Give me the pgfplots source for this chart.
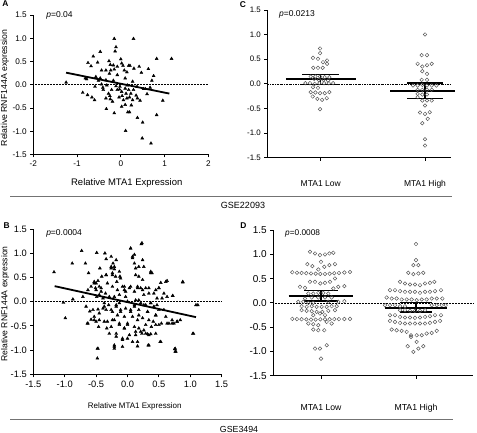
\documentclass[border=0pt]{standalone}
\usepackage{pgfplots}
\pgfplotsset{compat=1.18}
\usepackage{fontspec}
\setmainfont{Liberation Sans}
\pgfplotsset{
  gp/.style={
    scale only axis, axis x line*=bottom, axis y line*=left,
    axis line style={line width=0.8pt,-},
    tick align=outside, major tick length=3pt,
    every tick/.style={black, line width=0.8pt},
    /pgf/number format/assume math mode=true,
    ymin=-1.5, ymax=1.5, ytick={-1.5,-1,-0.5,0,0.5,1,1.5},
    yticklabel style={/pgf/number format/fixed, /pgf/number format/fixed zerofill, /pgf/number format/precision=1},
    clip=false,
  },
  tri/.style={only marks, mark=triangle*, mark size=1.7pt, mark options={black, fill=black}},
  circ/.style={only marks, mark=o, mark size=1.8pt, mark options={black!65, line width=0.5pt}},
}
\begin{document}
\begin{tikzpicture}
\useasboundingbox (0pt,0pt) rectangle (477pt,433pt);

% ---------------- Panel A ----------------
\begin{axis}[gp, at={(33.3pt,278.5pt)}, anchor=south west, width=175pt, height=139.5pt,
  xmin=-2, xmax=2, xtick={-2,-1,0,1,2},
  xticklabel style={/pgf/number format/fixed, /pgf/number format/precision=0},
  tick label style={font=\fontsize{8.2}{9}\selectfont},
  xlabel={Relative MTA1 Expression}, ylabel={Relative RNF144A expression},
  xlabel style={at={(axis description cs:0.534,-0.204)}, anchor=center, font=\fontsize{9.5}{11}\selectfont},
  ylabel style={at={(axis description cs:-0.162,0.477)}, anchor=center, font=\fontsize{8.7}{10}\selectfont}]
\addplot[densely dotted, line width=0.5pt] coordinates {(-2,0) (2,0)};
\addplot[tri] coordinates {
(-1.25,0.05) (-0.87,-0.17) (-0.76,-0.22) (-0.66,-0.27) (-0.60,-0.33) (-0.75,0.47) (-0.68,0.40)
(-0.63,0.61) (-0.53,0.48) (-0.47,0.71) (-0.81,0.14) (-0.78,0.12) (-0.57,0.17) (-0.51,0.09)
(-0.47,0.14) (-0.44,0.01) (-0.41,-0.06) (-0.44,0.31) (-0.34,0.31) (-0.34,0.10) (-0.27,0.51)
(-0.24,0.43) (-0.23,0.31) (-0.26,0.24) (-0.28,-0.19) (-0.25,-0.24) (-0.24,-0.31) (-0.34,-0.29)
(-0.33,-0.52) (-0.15,0.99) (-0.11,0.81) (-0.13,0.72) (-0.17,0.42) (-0.15,0.33) (-0.08,0.21)
(-0.15,-0.61) (-0.21,-0.11) (-0.11,-0.03) (-0.04,-0.27) (-0.02,-0.04) (0.00,0.55) (0.02,0.46)
(0.05,0.41) (0.08,0.31) (0.02,-0.47) (0.10,-0.43) (0.11,-0.99) (0.03,-0.24) (0.12,-0.19)
(0.15,-0.01) (0.14,0.27) (0.18,0.41) (0.21,0.41) (0.18,-0.11) (0.20,-0.27) (0.16,-0.59)
(0.20,-0.59) (0.29,0.99) (0.30,0.35) (0.27,0.07) (0.27,-0.33) (0.24,-0.44) (0.23,-0.19)
(0.35,-0.23) (0.38,-0.71) (0.38,-0.29) (0.42,0.39) (0.47,0.26) (0.49,-1.15) (0.50,-0.81)
(0.44,-0.34) (0.52,-0.09) (0.56,-0.09) (0.60,-0.20) (0.63,0.34) (0.67,-0.06) (0.69,-1.26)
(0.71,0.09) (0.75,0.19) (0.82,0.56) (0.82,-0.65) (0.96,-0.34) (1.16,0.56) (0.37,-0.04)
(0.10,-0.08) (-0.08,-0.11) (0.02,-0.15) (0.06,-0.33) (-0.08,0.39) (-0.19,-0.36) (-0.40,-0.11)
(-0.59,-0.04) (-0.17,0.09) (0.10,0.14) (0.14,-0.29) (0.29,-0.11) (-0.03,-0.10) (-0.32,-0.01)
};
\addplot[black, line width=1.8pt] coordinates {(-1.25,0.26) (1.11,-0.19)};
\node[anchor=west, font=\fontsize{8.5}{10}\selectfont] at (axis description cs:0.055,1.0) {\textit{p}=0.04};
\end{axis}

% ---------------- Panel C ----------------
\begin{axis}[gp, at={(267.3pt,275.3pt)}, anchor=south west, width=183.7pt, height=147.7pt,
  xmin=0.488, xmax=2.249, xtick={1,2}, xticklabels={MTA1 Low, MTA1 High},
  yticklabel style={font=\fontsize{7.9}{9}\selectfont},
  xticklabel style={font=\fontsize{8.5}{10}\selectfont, yshift=-16pt}]
\addplot[dash pattern=on 2pt off 1pt on 0.6pt off 1pt, line width=0.4pt] coordinates {(0.488,0) (2.249,0)};
\addplot[circ] coordinates {
(0.994,0.718) (0.994,0.623) (0.926,0.528) (0.974,0.508) (1.022,0.440) (1.061,0.474) (1.061,0.407)
(0.929,0.325) (0.974,0.325) (1.019,0.325) (0.904,0.149) (0.949,0.149) (0.994,0.149) (1.038,0.136)
(1.083,0.136) (0.936,0.102) (0.981,0.081) (1.026,0.081) (1.071,0.068) (0.853,0.014) (0.897,0.014)
(0.942,0.000) (0.987,0.014) (1.032,0.014) (1.077,0.014) (1.119,0.014) (0.926,-0.068) (0.974,-0.081)
(0.904,-0.169) (0.949,-0.176) (0.994,-0.190) (1.038,-0.190) (1.083,-0.169) (0.923,-0.257)
(0.968,-0.305) (1.013,-0.325) (1.058,-0.291) (0.994,-0.515)
};
\addplot[circ] coordinates {
(2.000,1.003) (1.968,0.583) (2.019,0.583) (1.929,0.407) (1.974,0.352) (2.019,0.379) (2.064,0.407)
(1.974,0.257) (2.019,0.203) (1.968,0.081) (2.019,0.081) (1.885,-0.034) (1.929,-0.034) (1.974,-0.020)
(2.019,-0.034) (2.064,-0.034) (2.109,-0.034) (1.929,-0.122) (1.974,-0.122) (2.019,-0.122)
(2.064,-0.122) (1.929,-0.203) (1.974,-0.217) (2.019,-0.217) (1.929,-0.271) (1.974,-0.339)
(2.019,-0.339) (2.064,-0.339) (2.000,-0.440) (1.952,-0.583) (2.000,-0.610) (2.045,-0.576)
(2.026,-0.711) (1.974,-0.799) (2.000,-1.125) (2.000,-1.253)
};
\addplot[black, line width=2pt] coordinates {(0.665,0.09) (1.335,0.09)};
\addplot[black, line width=1.3pt] coordinates {(0.825,0.19) (1.175,0.19)};
\addplot[black, line width=1.3pt] coordinates {(0.825,-0.01) (1.175,-0.01)};
\addplot[black, line width=1.3pt] coordinates {(1,-0.01) (1,0.19)};
\addplot[black, line width=2pt] coordinates {(1.665,-0.14) (2.29,-0.14)};
\addplot[black, line width=1.3pt] coordinates {(1.83,0.02) (2.17,0.02)};
\addplot[black, line width=1.3pt] coordinates {(1.83,-0.30) (2.17,-0.30)};
\addplot[black, line width=1.3pt] coordinates {(2,-0.30) (2,0.02)};
\node[anchor=west, font=\fontsize{8.5}{10}\selectfont] at (axis description cs:0.045,0.973) {\textit{p}=0.0213};
\end{axis}

% ---------------- Panel B ----------------
\begin{axis}[gp, at={(33.3pt,58.7pt)}, anchor=south west, width=188.4pt, height=145.3pt,
  xmin=-1.5, xmax=1.5, xtick={-1.5,-1,-0.5,0,0.5,1,1.5},
  xticklabel style={/pgf/number format/fixed, /pgf/number format/fixed zerofill, /pgf/number format/precision=1},
  tick label style={font=\fontsize{9.3}{11}\selectfont},
  xlabel={Relative MTA1 Expression}, ylabel={Relative RNF144A expression},
  xlabel style={at={(axis description cs:0.538,-0.223)}, anchor=center, font=\fontsize{8}{9.5}\selectfont},
  ylabel style={at={(axis description cs:-0.150,0.484)}, anchor=center, font=\fontsize{8.6}{10}\selectfont}]
\addplot[densely dotted, line width=0.5pt] coordinates {(-1.5,0) (1.5,0)};
\addplot[tri] coordinates {
(-1.17,0.61) (-0.88,0.79) (-0.73,1.05) (-0.67,0.79) (-0.62,0.59) (-1.02,-0.02) (-0.99,-0.34)
(-0.87,0.05) (-0.64,-0.45) (-0.49,1.01) (-0.48,-0.97) (-0.48,-1.17) (-0.36,1.00) (-0.34,0.88)
(-0.44,0.69) (-0.26,0.93) (-0.23,0.79) (0.05,1.10) (0.23,1.21) (0.24,0.86) (0.37,0.62)
(0.53,0.39) (0.63,0.43) (0.88,0.41) (0.72,0.12) (1.12,-0.07) (1.05,-0.66) (0.76,-0.97)
(0.77,-1.03) (0.53,-0.83) (0.33,-0.90) (0.16,-0.92) (-0.08,-0.93) (-0.21,-0.90) (-0.21,-0.97)
(-0.71,0.10) (-0.66,-0.10) (-0.63,0.24)
(-0.53,0.41) (-0.50,0.38) (-0.47,0.43) (-0.45,0.31) (-0.51,0.28) (-0.42,0.21) (-0.49,0.10)
(-0.39,0.07) (-0.55,-0.17) (-0.47,-0.16) (-0.39,-0.14) (-0.34,-0.17) (-0.53,-0.31) (-0.45,-0.38)
(-0.37,-0.41) (-0.46,-0.52) (-0.33,-0.55) (-0.29,-0.66) (-0.60,-0.20) (-0.58,-0.37) (-0.41,0.52)
(-0.34,0.55) (-0.32,0.38) (-0.37,-0.03) (-0.30,-0.07) (-0.35,0.17)
(-0.26,0.72) (-0.24,0.59) (-0.21,0.67) (-0.19,0.52) (-0.17,0.41) (-0.24,0.31) (-0.16,0.24)
(-0.13,0.14) (-0.21,0.10) (-0.08,0.31) (-0.05,0.24) (-0.03,0.10) (0.00,0.00) (-0.13,-0.03)
(-0.18,-0.10) (-0.24,-0.21) (-0.16,-0.28) (-0.11,-0.17) (-0.05,-0.31) (-0.21,-0.38) (-0.13,-0.48)
(-0.05,-0.55) (0.00,-0.45) (0.03,-0.69) (-0.08,-0.76) (-0.18,-0.72) (-0.26,-0.52) (0.05,-0.17)
(0.03,0.28) (-0.12,0.52)
(0.08,0.93) (0.11,0.79) (0.13,0.69) (0.18,0.52) (0.24,0.45) (0.16,0.31) (0.21,0.28) (0.29,0.28)
(0.11,0.21) (0.26,0.14) (0.34,0.17) (0.13,0.03) (0.21,-0.03) (0.29,-0.07) (0.37,-0.03) (0.11,-0.10)
(0.18,-0.17) (0.32,-0.21) (0.08,-0.31) (0.16,-0.38) (0.24,-0.34) (0.34,-0.38) (0.11,-0.52)
(0.18,-0.55) (0.26,-0.59) (0.32,-0.67) (0.37,-0.67) (0.23,-0.66) (0.13,-0.69) (0.29,-0.48)
(0.38,-0.52) (0.08,-0.83)
(0.39,0.59) (0.45,0.24) (0.50,0.28) (0.47,0.07) (0.55,0.07) (0.42,-0.10) (0.50,-0.17) (0.58,-0.17)
(0.45,-0.28) (0.41,-0.41) (0.50,-0.48) (0.61,-0.31) (0.66,-0.45) (0.74,-0.45) (0.79,-0.41)
(0.84,-0.38) (0.71,-0.38) (0.45,-0.66) (0.63,0.10)
(-0.58,0.31) (-0.53,0.38) (-0.50,0.24) (-0.45,0.14) (-0.42,0.28) (-0.34,0.55) (-0.26,0.69)
(-0.24,0.55) (-0.21,0.72) (-0.18,0.86) (-0.13,0.62) (-0.11,0.48) (-0.05,0.31) (-0.03,0.21)
(-0.29,0.10) (-0.37,-0.10) (-0.26,-0.17) (-0.18,-0.07) (-0.11,-0.21) (-0.03,-0.14) (-0.24,-0.38)
(-0.13,-0.45) (-0.05,-0.55) (-0.32,-0.41) (-0.18,-0.66) (-0.08,-0.79) (-0.21,-0.93) (-0.47,-0.97)
(-0.63,-0.45) (-0.50,-0.41) (-0.45,-0.24) (-0.53,-0.38)
(0.05,1.10) (0.22,1.19) (0.08,0.90) (0.11,0.97) (0.18,0.72) (0.26,0.72) (0.13,0.55) (0.37,0.59)
(0.05,0.31) (0.16,0.28) (0.24,0.24) (0.34,0.28) (0.42,0.17) (0.50,0.28) (0.61,0.41) (0.58,0.17)
(0.72,0.12) (0.88,0.40) (0.00,0.00) (0.11,-0.07) (0.18,0.03) (0.26,-0.07) (0.37,-0.03)
(0.47,-0.07) (1.09,-0.07) (0.05,-0.21) (0.18,-0.28) (0.32,-0.21) (0.45,-0.28) (0.00,-0.48)
(0.13,-0.62) (0.21,-0.62) (0.29,-0.66) (0.34,-0.69) (0.45,-0.48) (0.54,-0.45) (0.63,-0.45)
(0.71,-0.45) (0.79,-0.41) (0.00,-0.76) (0.16,-0.83) (0.34,-0.90) (0.52,-0.83) (1.04,-0.66)
(0.75,-0.98) (0.76,-1.03)
};
\addplot[black, line width=1.8pt] coordinates {(-1.16,0.32) (1.09,-0.32)};
\node[anchor=west, font=\fontsize{8.5}{10}\selectfont] at (axis description cs:0.05,0.972) {\textit{p}=0.0004};
\end{axis}

% ---------------- Panel D ----------------
\begin{axis}[gp, at={(273.3pt,57.3pt)}, anchor=south west, width=200pt, height=145.7pt,
  xmin=0.498, xmax=2.603, xtick={1,2}, xticklabels={MTA1 Low, MTA1 High},
  yticklabel style={font=\fontsize{10}{12}\selectfont},
  xticklabel style={font=\fontsize{8.7}{10}\selectfont, yshift=-22pt}]
\addplot[densely dotted, line width=0.5pt] coordinates {(0.498,0) (2.603,0)};
\addplot[circ] coordinates {
(0.884,1.052) (0.937,1.017) (0.989,0.983) (1.042,0.997) (1.088,1.017) (1.130,1.031)
(1.000,0.845) (0.856,0.797) (0.909,0.756) (0.972,0.687) (1.035,0.742) (1.088,0.777) (1.147,0.797)
(0.698,0.630) (0.747,0.620) (0.796,0.615) (0.846,0.610) (0.895,0.605) (0.944,0.600) (0.993,0.595)
(1.042,0.595) (1.091,0.600) (1.140,0.610) (1.189,0.615) (1.246,0.625) (1.305,0.635)
(0.884,0.433) (0.937,0.433) (0.993,0.399) (1.042,0.412) (1.095,0.433) (1.147,0.502)
(0.779,0.330) (0.832,0.309) (1.130,0.296) (1.182,0.330) (1.246,0.344)
(0.867,0.192) (0.919,0.192) (0.972,0.206) (1.025,0.206) (1.077,0.192)
(0.832,0.089) (0.902,0.110) (0.972,0.110) (1.042,0.110) (1.112,0.110)
(0.761,0.021) (0.814,0.021) (0.867,0.000) (0.919,0.000) (1.077,0.021) (1.182,0.021) (1.246,0.034)
(0.796,-0.069) (0.849,-0.082) (0.902,-0.069) (0.954,-0.082) (1.007,-0.082) (1.060,-0.082)
(1.112,-0.069) (1.165,-0.069)
(0.796,-0.151) (0.849,-0.165) (0.902,-0.172) (0.954,-0.186) (1.014,-0.186) (1.077,-0.165) (1.147,-0.151)
(0.919,-0.254) (0.989,-0.220) (1.042,-0.254)
(0.698,-0.330) (0.747,-0.335) (0.796,-0.337) (0.846,-0.340) (0.895,-0.345) (0.944,-0.345) (0.993,-0.340)
(1.042,-0.340) (1.091,-0.337) (1.140,-0.335) (1.189,-0.335) (1.246,-0.333) (1.305,-0.330)
(0.867,-0.426) (0.919,-0.440) (0.972,-0.460) (1.060,-0.392) (1.112,-0.426)
(0.919,-0.550) (0.972,-0.564) (1.035,-0.564)
(0.937,-0.942) (0.989,-0.942) (1.060,-0.873) (1.000,-1.148)
};
\addplot[circ] coordinates {
(2.000,1.210) (2.000,0.880) (1.972,0.777) (2.025,0.777)
(1.919,0.619) (1.972,0.591) (2.025,0.605) (2.077,0.619)
(1.832,0.433) (1.884,0.399) (1.937,0.378) (1.989,0.378) (2.042,0.364) (2.095,0.399) (2.147,0.412) (2.193,0.433)
(1.726,0.261) (1.779,0.261) (1.832,0.241) (1.884,0.227) (1.937,0.227) (1.989,0.227) (2.042,0.206)
(2.095,0.227) (2.147,0.227) (2.200,0.241) (2.263,0.261)
(1.691,0.110) (1.744,0.089) (1.796,0.089) (1.849,0.069) (1.902,0.069) (1.954,0.069) (2.007,0.055)
(2.060,0.069) (2.112,0.069) (2.165,0.089) (2.218,0.089) (2.277,0.089)
(1.674,-0.048) (1.726,-0.048) (1.779,-0.048) (1.832,-0.069) (1.884,-0.069) (2.165,-0.048)
(2.218,-0.048) (2.270,-0.048) (2.312,-0.048)
(1.832,-0.151) (1.884,-0.151) (1.937,-0.165) (1.989,-0.165) (2.042,-0.165) (2.095,-0.151)
(1.726,-0.254) (1.779,-0.254) (1.832,-0.289) (1.884,-0.302) (1.937,-0.302) (1.989,-0.309)
(2.042,-0.302) (2.095,-0.289) (2.147,-0.275) (2.200,-0.254) (2.263,-0.254)
(1.726,-0.371) (1.779,-0.392) (1.832,-0.412) (1.884,-0.426) (1.937,-0.426) (1.989,-0.426)
(2.042,-0.426) (2.095,-0.426) (2.147,-0.412) (2.200,-0.392) (2.253,-0.371)
(1.744,-0.550) (1.796,-0.564) (1.849,-0.577) (1.902,-0.598) (1.947,-0.667) (2.007,-0.667)
(2.060,-0.667) (2.112,-0.632) (2.165,-0.619) (2.218,-0.577)
(1.947,-0.701) (2.007,-0.804) (1.912,-0.893) (1.972,-1.010) (2.025,-0.942) (2.077,-0.893)
};
\addplot[black, line width=2pt] coordinates {(0.66,0.15) (1.34,0.15)};
\addplot[black, line width=1.3pt] coordinates {(0.825,0.26) (1.175,0.26)};
\addplot[black, line width=1.3pt] coordinates {(0.825,0.04) (1.175,0.04)};
\addplot[black, line width=1.3pt] coordinates {(1,0.04) (1,0.26)};
\addplot[black, line width=2pt] coordinates {(1.67,-0.10) (2.33,-0.10)};
\addplot[black, line width=1.3pt] coordinates {(1.83,0.00) (2.17,0.00)};
\addplot[black, line width=1.3pt] coordinates {(1.83,-0.19) (2.17,-0.19)};
\addplot[black, line width=1.3pt] coordinates {(2,-0.19) (2,0.00)};
\node[anchor=west, font=\fontsize{8.3}{10}\selectfont] at (axis description cs:0.042,0.977) {\textit{p}=0.0008};
\end{axis}

% ---------------- annotations ----------------
\node[font=\bfseries\fontsize{8.4}{10}\selectfont] at (5.5pt,429pt) {A};
\node[font=\bfseries\fontsize{8.4}{10}\selectfont] at (243pt,428pt) {C};
\node[font=\bfseries\fontsize{8.4}{10}\selectfont] at (6.7pt,207pt) {B};
\node[font=\bfseries\fontsize{8.4}{10}\selectfont] at (243.5pt,207pt) {D};
\draw[black!55, line width=1pt] (10pt,236.3pt) -- (451.7pt,236.3pt);
\node[font=\fontsize{9}{10}\selectfont] at (243pt,228pt) {GSE22093};
\draw[black!55, line width=1pt] (10pt,13pt) -- (453pt,13pt);
\node[font=\fontsize{8.8}{10}\selectfont] at (239pt,3.5pt) {GSE3494};
\end{tikzpicture}
\end{document}
